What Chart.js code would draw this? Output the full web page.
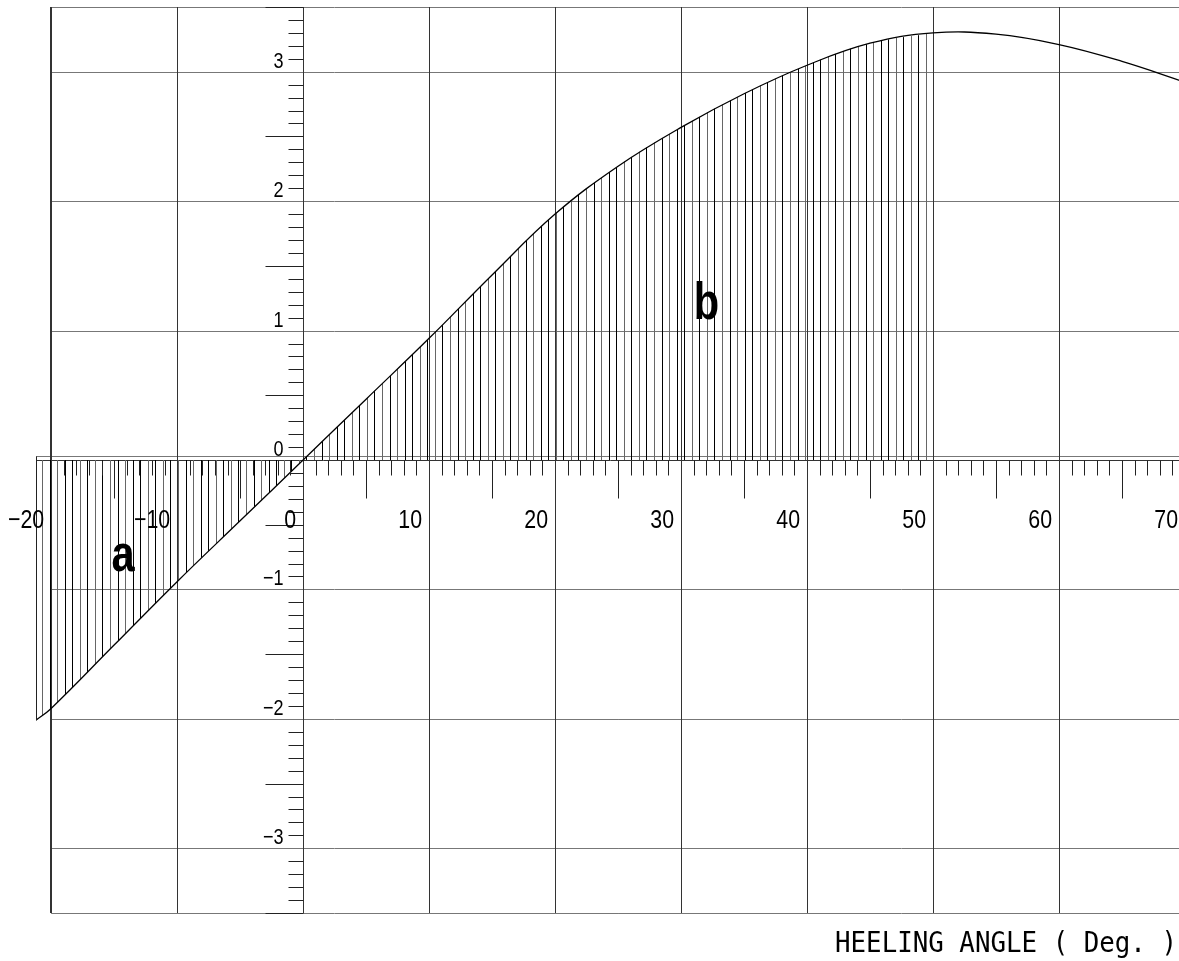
<!DOCTYPE html>
<html>
<head>
<meta charset="utf-8">
<script src="https://cdn.jsdelivr.net/npm/chart.js@4.4.0/dist/chart.umd.min.js"></script>
<style>
    html, body { margin: 0; padding: 0; background: #fff; overflow: hidden; }
    #wrap { width: 1200px; height: 961px; }
</style>
</head>
<body>
<div id="wrap"><canvas id="gzChart" width="1200" height="961"></canvas></div>
<script>
// GZ curve (heel angle in deg, lever in m)
const heelAngles = [-21.2, -20, -15, -10, -5, 0, 5, 10, 15, 20, 25, 30, 35, 40, 45, 50, 55, 60, 65, 70];
const gzValues = [-2.01, -1.92, -1.43, -0.94, -0.47, 0, 0.47, 0.94, 1.43, 1.90, 2.27, 2.57, 2.83, 3.05, 3.22, 3.30, 3.29, 3.21, 3.08, 2.92];

const xTicks = [-20, -10, 0, 10, 20, 30, 40, 50, 60, 70];
const yTicks = [-3, -2, -1, 0, 1, 2, 3];
const yLimits = [-3.5, 3.5];
const hatchEnd = 50;
const xTitle = 'HEELING ANGLE ( Deg. )';

const numFont = '"Liberation Sans", Arial, sans-serif';
const minus = v => String(v).replace('-', '\u2212');

const curve = heelAngles.map((x, i) => ({ x: x, y: gzValues[i] }));
const hatched = curve.filter(p => p.x <= hatchEnd);

// vertical hatching, 9 lines every 68px
function makeHatch() {
    let c = document.createElement('canvas');
    c.width = 68;
    c.height = 8;
    let g = c.getContext('2d');
    g.lineWidth = 1;
    for (let i = 0; i < 9; i++) {
        let x = Math.round(5.2 + i * 68 / 9) - 0.5;
        g.strokeStyle = i % 2 ? '#666' : '#000';
        g.beginPath();
        g.moveTo(x, 0);
        g.lineTo(x, 8);
        g.stroke();
    }
    return g.createPattern(c, 'repeat');
}

function hline(ctx, x1, x2, y) {
    ctx.beginPath();
    ctx.moveTo(x1, y);
    ctx.lineTo(x2, y);
    ctx.stroke();
}

function vline(ctx, x, y1, y2) {
    ctx.beginPath();
    ctx.moveTo(x, y1);
    ctx.lineTo(x, y2);
    ctx.stroke();
}

// narrow text: squeeze horizontally
function narrowText(ctx, text, x, y, sx, align) {
    ctx.save();
    ctx.translate(x, y);
    ctx.scale(sx, 1);
    ctx.textAlign = align;
    ctx.fillText(text, 0, 0);
    ctx.restore();
}

const gridPlugin = {
    id: 'gridPlugin',
    beforeDatasetsDraw(chart) {
        const ctx = chart.ctx;
        const xs = chart.scales.x, ys = chart.scales.y;
        const top = ys.getPixelForValue(yLimits[1]);
        const bottom = ys.getPixelForValue(yLimits[0]);
        const left = xs.getPixelForValue(xTicks[0]);
        const right = chart.chartArea.right;
        const start = xs.getPixelForValue(heelAngles[0]);
        const y0 = Math.round(ys.getPixelForValue(0)) + 0.5;
        ctx.save();
        ctx.lineWidth = 1;
        ctx.strokeStyle = '#777';
        [yLimits[0], ...yTicks, yLimits[1]].forEach(v => {
            if (v === 0) return;
            hline(ctx, left, right, Math.round(ys.getPixelForValue(v)) + 0.5);
        });
        hline(ctx, start, right, y0 - 4);
        ctx.strokeStyle = '#333';
        hline(ctx, start, right, y0);
        xTicks.forEach((v, i) => {
            ctx.lineWidth = i === 0 ? 2 : 1;
            let x = Math.round(xs.getPixelForValue(v)) + (i === 0 ? 0 : 0.5);
            vline(ctx, x, top, bottom);
        });
        ctx.restore();
    },
    afterDatasetsDraw(chart) {
        const ctx = chart.ctx;
        const xs = chart.scales.x, ys = chart.scales.y;
        const x0 = Math.round(xs.getPixelForValue(0)) + 0.5;
        const y0 = Math.round(ys.getPixelForValue(0)) + 0.5;
        ctx.save();
        ctx.strokeStyle = '#222';
        ctx.lineWidth = 1;

        // left edge of area a
        const ex = Math.round(xs.getPixelForValue(heelAngles[0])) + 0.5;
        vline(ctx, ex, y0 - 4, ys.getPixelForValue(gzValues[0]));

        // x axis ticks every degree
        for (let d = xTicks[0]; d <= xTicks[xTicks.length - 1]; d++) {
            if (d % 10 === 0) continue;
            let len = d % 5 === 0 ? 38 : 15;
            vline(ctx, Math.round(xs.getPixelForValue(d)) + 0.5, y0, y0 + len);
        }
        // y axis ticks every 0.1
        for (let t = Math.round(yLimits[0] * 10); t <= Math.round(yLimits[1] * 10); t++) {
            if (t % 10 === 0) continue;
            let len = t % 5 === 0 ? 38 : 15;
            hline(ctx, x0 - len, x0, Math.round(ys.getPixelForValue(t / 10)) + 0.5);
        }

        ctx.fillStyle = '#000';
        ctx.textBaseline = 'alphabetic';
        ctx.font = '26px ' + numFont;
        xTicks.forEach(v => {
            narrowText(ctx, minus(v), xs.getPixelForValue(v) - 7, y0 + 67, 0.82, 'right');
        });
        ctx.font = '22px ' + numFont;
        yTicks.forEach(v => {
            narrowText(ctx, minus(v), x0 - 20, ys.getPixelForValue(v) - 4, 0.82, 'right');
        });

        // area letters
        ctx.font = 'bold 52px ' + numFont;
        narrowText(ctx, 'a', xs.getPixelForValue(-15.2), ys.getPixelForValue(-0.86), 0.8, 'left');
        narrowText(ctx, 'b', xs.getPixelForValue(31.0), ys.getPixelForValue(1.09), 0.8, 'left');

        // axis title
        ctx.font = '28px "DejaVu Sans Mono", monospace';
        let w = ctx.measureText(xTitle).width;
        narrowText(ctx, xTitle, 1177, 952, 342 / w, 'right');
        ctx.restore();
    }
};

let gzChart = new Chart(document.getElementById('gzChart'), {
    type: 'line',
    data: {
        datasets: [{
            data: curve,
            borderColor: '#000',
            borderWidth: 1.3,
            pointRadius: 0,
            fill: false,
            tension: 0.4
        }, {
            data: hatched,
            borderWidth: 0,
            borderColor: 'rgba(0,0,0,0)',
            backgroundColor: makeHatch(),
            pointRadius: 0,
            fill: 'origin',
            tension: 0.4
        }]
    },
    options: {
        responsive: false,
        animation: false,
        devicePixelRatio: 1,
        events: [],
        layout: {
            padding: { left: 36, top: 7, right: 15, bottom: 48 }
        },
        scales: {
            x: { type: 'linear', min: heelAngles[0], max: xTicks[xTicks.length - 1], display: false },
            y: { type: 'linear', min: yLimits[0], max: yLimits[1], display: false }
        },
        plugins: {
            legend: { display: false },
            tooltip: { enabled: false }
        }
    },
    plugins: [gridPlugin]
});
</script>
</body>
</html>
